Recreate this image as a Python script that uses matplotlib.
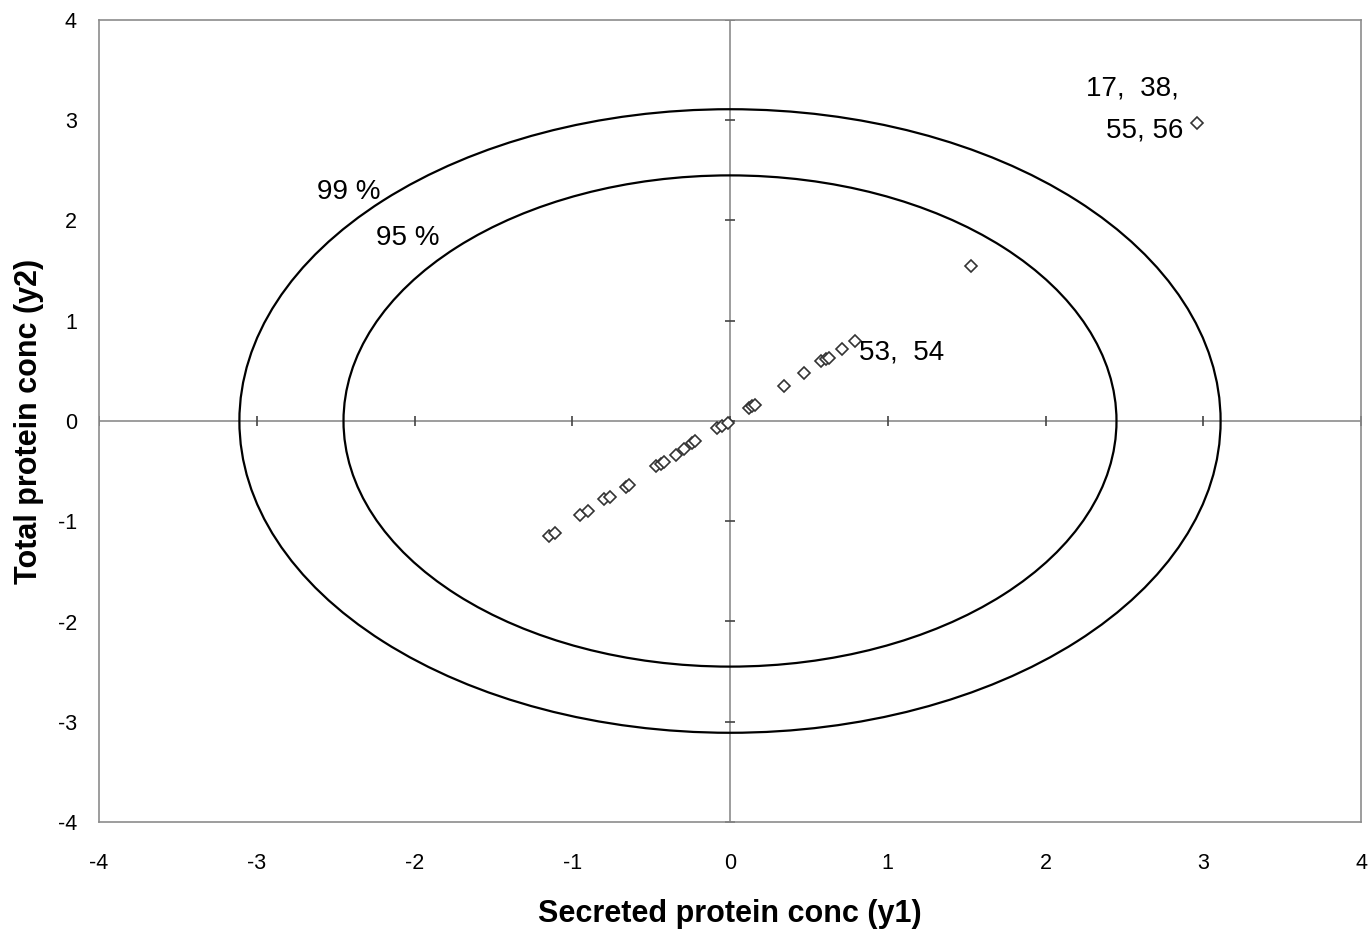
import numpy as np
import matplotlib.pyplot as plt
from matplotlib.patches import Ellipse

plt.rcParams['font.family'] = ['Liberation Sans', 'DejaVu Sans']
plt.rcParams['axes.unicode_minus'] = False

# scores (secreted vs total protein conc)
y1 = [-1.15, -1.11, -0.95, -0.90, -0.80, -0.76, -0.66, -0.64,
      -0.47, -0.44, -0.42, -0.34, -0.29, -0.24, -0.22,
      -0.08, -0.05, -0.01, 0.12, 0.14, 0.16, 0.34, 0.47,
      0.58, 0.61, 0.63, 0.71, 0.79, 1.53, 2.96]
y2 = [-1.15, -1.12, -0.94, -0.90, -0.78, -0.76, -0.66, -0.64,
      -0.45, -0.43, -0.41, -0.34, -0.28, -0.22, -0.20,
      -0.07, -0.05, -0.02, 0.13, 0.15, 0.16, 0.35, 0.48,
      0.60, 0.62, 0.63, 0.72, 0.80, 1.55, 2.97]

# confidence limits (radius in score units)
limits = {'99 %': 3.11, '95 %': 2.45}

ticks = [-4, -3, -2, -1, 0, 1, 2, 3, 4]

fig = plt.figure(figsize=(13.71, 9.38), dpi=100)
ax = fig.add_axes([99 / 1371, 1 - 822 / 938, 1262 / 1371, 802 / 938])

gray = '#8c8c8c'
ax.axhline(0, color=gray, lw=1.2, zorder=1)
ax.axvline(0, color=gray, lw=1.2, zorder=1)

# tick marks sit on the zero lines, like excel does
zeros = np.zeros(len(ticks))
ax.plot(ticks, zeros, ls='none', marker='|', ms=7, mew=1.2, color='#444444', zorder=1)
ax.plot(zeros, ticks, ls='none', marker='_', ms=7, mew=1.2, color='#444444', zorder=1)

for name, r in limits.items():
    ax.add_patch(Ellipse((0, 0), 2 * r, 2 * r, fill=False, ec='black', lw=1.6, zorder=2))

ax.plot(y1, y2, ls='none', marker='D', ms=6.5, mfc='white', mec='#333333', mew=1.2, zorder=3)

ax.text(-2.415, 2.28, '99 %', fontsize=20, ha='center', va='center')
ax.text(-2.04, 1.825, '95 %', fontsize=20, ha='center', va='center')
ax.text(1.09, 0.68, '53,  54', fontsize=20, ha='center', va='center')
ax.text(2.55, 3.32, '17,  38,', fontsize=20, ha='center', va='center')
ax.text(2.63, 2.90, '55, 56', fontsize=20, ha='center', va='center')

ax.set(xlim=[-4, 4], ylim=[-4, 4])
ax.set_xticks(ticks)
ax.set_yticks(ticks)
ax.tick_params(length=0, labelsize=15.5, pad=22)
ax.tick_params(axis='y', pad=16)
for s in ax.spines.values():
    s.set_color(gray)
    s.set_linewidth(1.2)

ax.set_xlabel('Secreted protein conc (y1)', fontsize=22, fontweight='bold', labelpad=18)
ax.set_ylabel('Total protein conc (y2)', fontsize=22, fontweight='bold', labelpad=10)

fig.savefig('out.png', dpi=100)
